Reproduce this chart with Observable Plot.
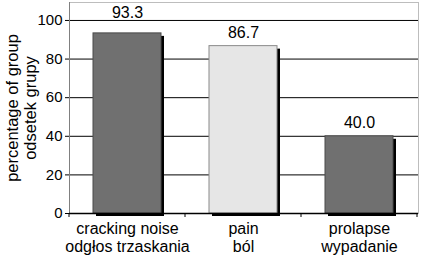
<!DOCTYPE html>
<html>
<head>
<meta charset="utf-8">
<script src="https://cdn.jsdelivr.net/npm/d3@7"></script>
<script src="https://cdn.jsdelivr.net/npm/@observablehq/plot@0.6"></script>
<style>
  html, body { margin: 0; padding: 0; background: #fff; }
</style>
</head>
<body>
<div id="chart"></div>
<script>
// Symptom categories (English / Polish) and share of the group reporting each
const categories = ["cracking noise\nodgłos trzaskania", "pain\nból", "prolapse\nwypadanie"];
const values = [93.3, 86.7, 40.0];
const yTicks = [0, 20, 40, 60, 80, 100];
const yLabel = "percentage of group\nodsetek grupy";

const data = categories.map((category, i) => ({category, value: values[i]}));

// Bar colours: dark grey for the outer bars, light grey for the middle one
const barFill = new Map([[categories[0], "#707070"], [categories[1], "#e6e6e6"], [categories[2], "#707070"]]);
const barStroke = new Map([[categories[0], "#4a4a4a"], [categories[1], "#8a8a8a"], [categories[2], "#4a4a4a"]]);

// Small tick marks at the boundaries between category bands, below the axis
function boundaryTicks(index, scales) {
  const x = scales.x, y = scales.y;
  const step = x.step(), bw = x.bandwidth();
  const y0 = y(0);
  const g = d3.create("svg:g").attr("stroke", "#000").attr("stroke-width", 1);
  const edges = categories.map(c => x(c) - (step - bw) / 2);
  edges.push(edges[edges.length - 1] + step);
  for (const e of edges) {
    g.append("line").attr("x1", e).attr("x2", e).attr("y1", y0).attr("y2", y0 + 4);
  }
  return g.node();
}

// Value labels; a label that would sit on the 100 gridline is lifted above it
const labelOpts = {x: "category", y: "value", text: d => d.value.toFixed(1), lineAnchor: "bottom", fontSize: 16};

const chart = Plot.plot({
  width: 425,
  height: 260,
  marginLeft: 69,
  marginRight: 7,
  marginTop: 2,
  marginBottom: 47,
  style: {fontFamily: "'Liberation Sans', Arial, sans-serif", fontSize: "15px", color: "#000", background: "#fff"},
  x: {domain: categories, paddingInner: 0.41, paddingOuter: 0.205, label: null},
  y: {domain: [0, 109.3], label: null},
  marks: [
    Plot.frame({stroke: "#bdbdbd"}),
    Plot.gridY(yTicks.filter(v => v > 0), {stroke: "#000", strokeOpacity: 1}),
    Plot.frame({anchor: "left", stroke: "#808080"}),
    // drop shadow behind each bar
    Plot.barY(data, {x: "category", y: "value", fill: "#000", dx: 3, dy: 3}),
    Plot.barY(data, {
      x: "category", y: "value",
      fill: d => barFill.get(d.category),
      stroke: d => barStroke.get(d.category),
      strokeWidth: 1
    }),
    Plot.ruleY([0], {stroke: "#000", strokeWidth: 1.5}),
    boundaryTicks,
    Plot.axisY({ticks: yTicks, tickSize: 4, tickPadding: 3, fontSize: 15, label: null}),
    Plot.axisX({tickSize: 0, tickPadding: 8, fontSize: 16, lineHeight: 1.1, label: null}),
    Plot.text([yLabel], {frameAnchor: "left", dx: -48, rotate: -90, textAnchor: "middle", fontSize: 16.5, lineHeight: 1.1}),
    Plot.text(data.filter(d => d.value < 90), {...labelOpts, dy: -8}),
    Plot.text(data.filter(d => d.value >= 90), {...labelOpts, dy: -15})
  ]
});

document.getElementById("chart").appendChild(chart);
</script>
</body>
</html>
